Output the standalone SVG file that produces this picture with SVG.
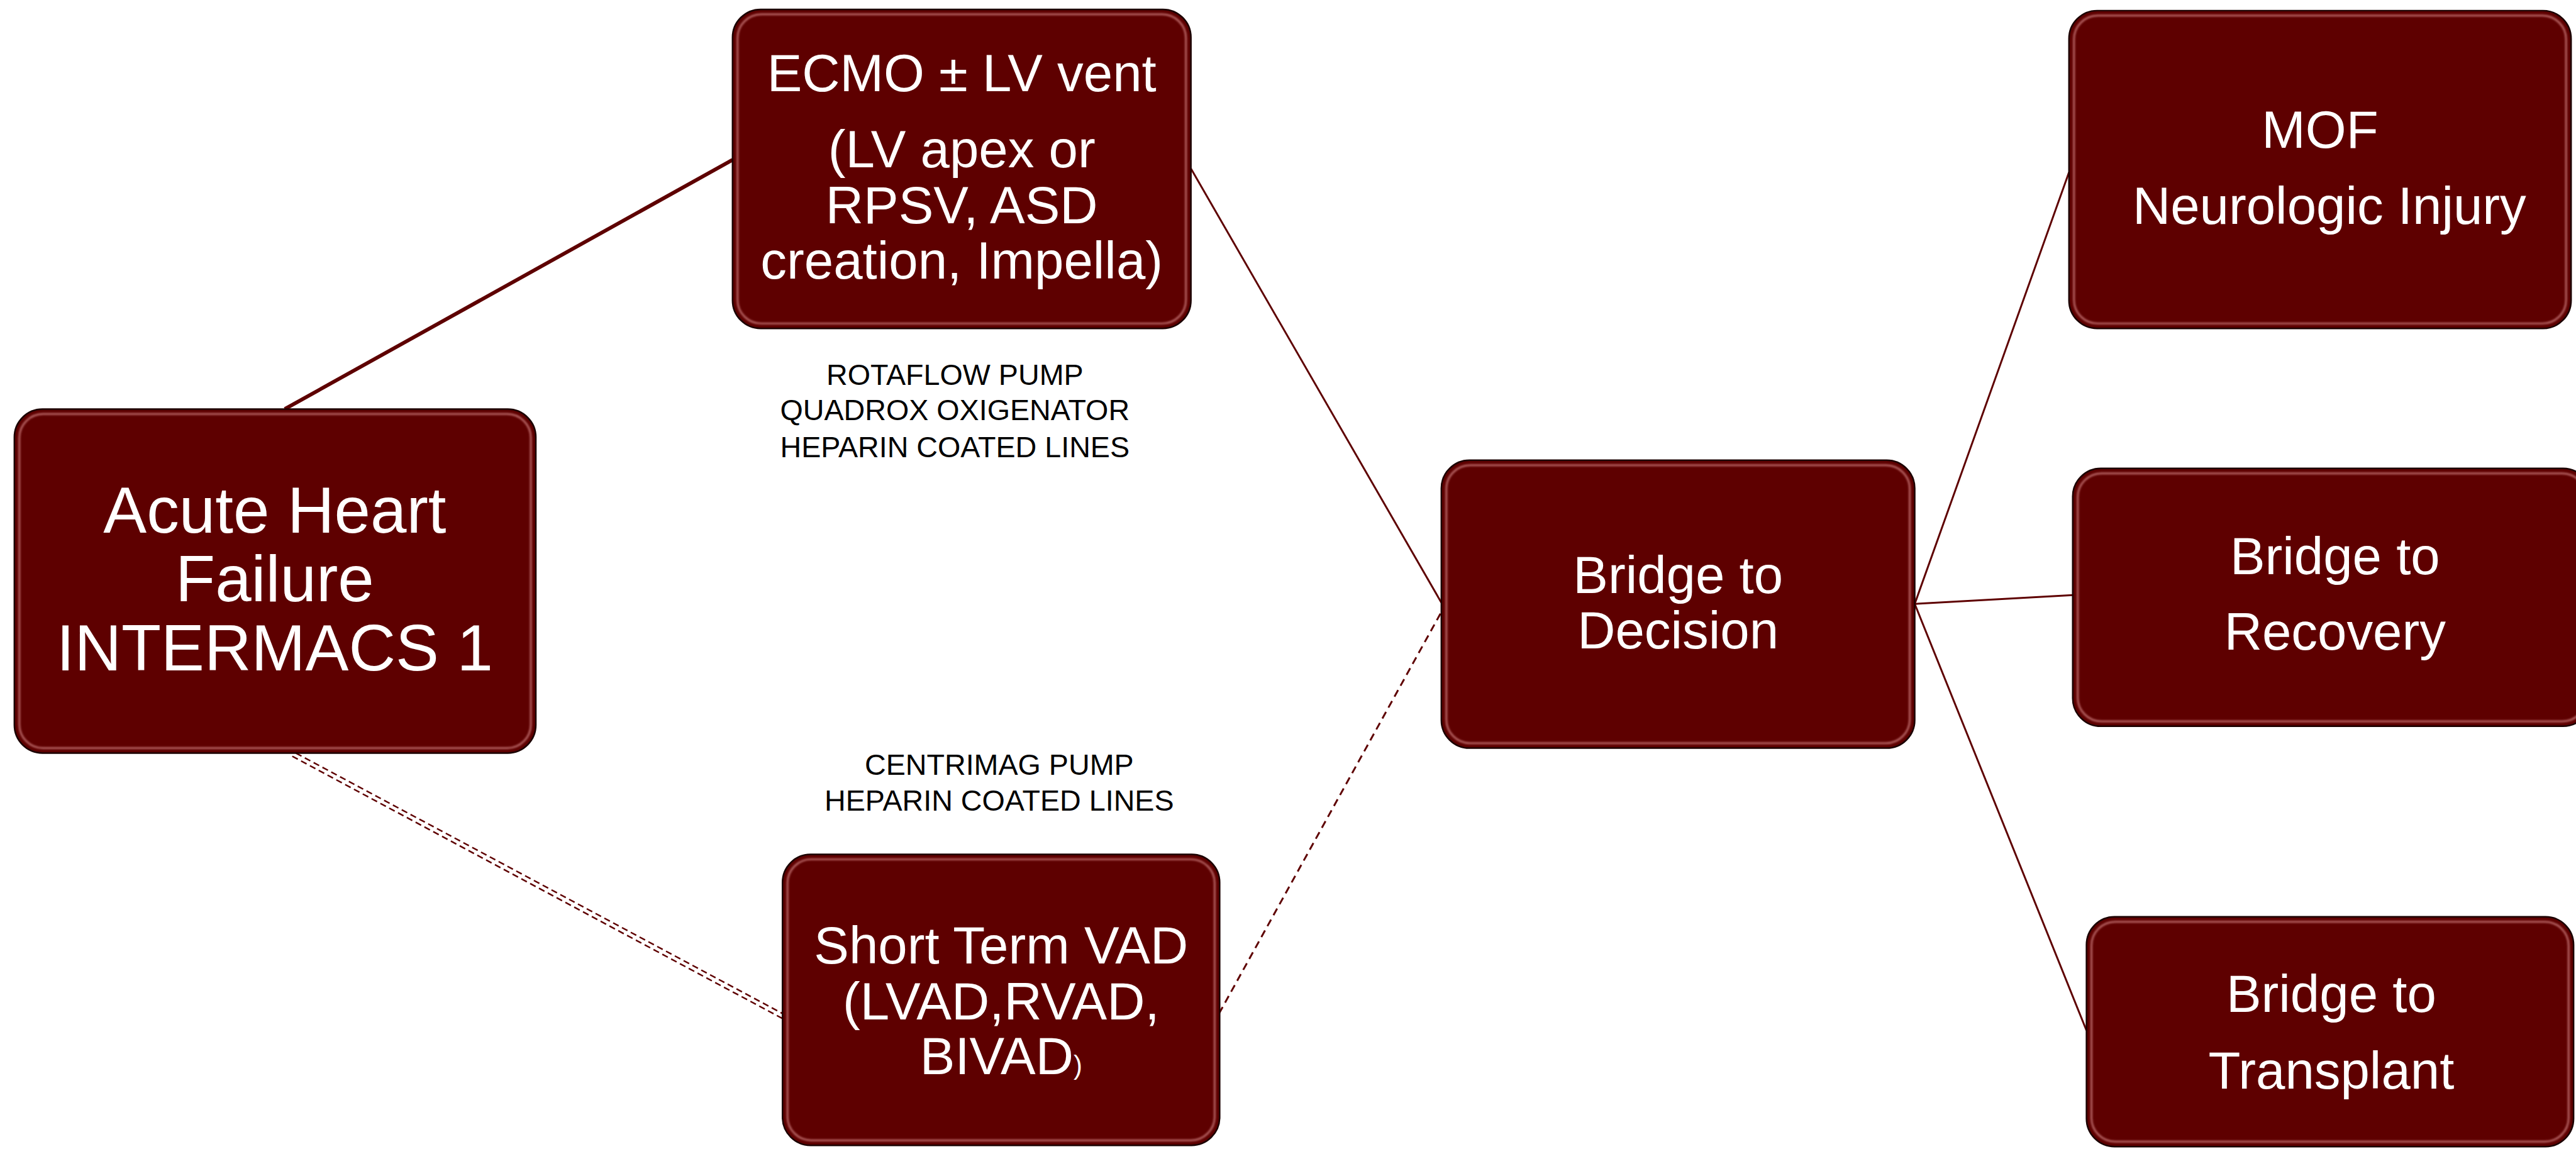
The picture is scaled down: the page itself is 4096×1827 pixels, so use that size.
<svg xmlns="http://www.w3.org/2000/svg" width="4096" height="1827" viewBox="0 0 4096 1827">
<defs>
<style>
.box{fill:#5e0000;stroke:#1a0000;stroke-width:2.5}
.hl{fill:none;stroke:#f2a8a8;stroke-width:3;opacity:0.6;filter:url(#blur)}
.t{fill:#ffffff;font-family:"Liberation Sans",Arial,sans-serif;font-size:84px;text-anchor:middle}
.big{font-size:104px}
.lbl{fill:#000000;font-family:"Liberation Sans",Arial,sans-serif;font-size:47px;text-anchor:middle}
.c{fill:none;stroke:#5e0000;stroke-width:3}
.thick{stroke-width:6}
.dash{stroke-dasharray:12 8}
.dash2{stroke-dasharray:10 6;stroke-width:2.5}
</style>
<filter id="blur" x="-5%" y="-5%" width="110%" height="110%"><feGaussianBlur stdDeviation="1.5"/></filter>
</defs>
<rect width="4096" height="1827" fill="#ffffff"/>
<g transform="scale(0.993)">
<g id="connectors">
<line class="c thick" x1="456" y1="655" x2="1173" y2="256"/>
<line class="c" x1="1907" y1="270" x2="2308" y2="965"/>
<line class="c dash2" x1="474" y1="1206" x2="1253" y2="1623"/>
<line class="c dash2" x1="468" y1="1211" x2="1253" y2="1631"/>
<line class="c dash" x1="1952" y1="1623" x2="2308" y2="980"/>
<line class="c" x1="3066" y1="967" x2="3313" y2="276"/>
<line class="c" x1="3066" y1="967" x2="3319" y2="953"/>
<line class="c" x1="3066" y1="967" x2="3341" y2="1650"/>
</g>
<g id="n-ahf">
<rect class="box" x="23" y="655" width="835" height="551" rx="45"/>
<rect class="hl" x="31" y="663" width="819" height="535" rx="38"/>
<text class="t big" x="440" y="853">Acute Heart</text>
<text class="t big" x="440" y="963">Failure</text>
<text class="t big" x="440" y="1074">INTERMACS 1</text>
</g>
<g id="n-ecmo">
<rect class="box" x="1173" y="15" width="734" height="511" rx="45"/>
<rect class="hl" x="1181" y="23" width="718" height="495" rx="38"/>
<text class="t" x="1540" y="146">ECMO ± LV vent</text>
<text class="t" x="1540" y="268">(LV apex or</text>
<text class="t" x="1540" y="357">RPSV, ASD</text>
<text class="t" x="1540" y="446">creation, Impella)</text>
</g>
<g id="n-stvad">
<rect class="box" x="1253" y="1368" width="700" height="466" rx="45"/>
<rect class="hl" x="1261" y="1376" width="684" height="450" rx="38"/>
<text class="t" x="1603" y="1543">Short Term VAD</text>
<text class="t" x="1603" y="1632">(LVAD,RVAD,</text>
<text class="t" x="1603" y="1720">BIVAD<tspan font-size="42">)</tspan></text>
</g>
<g id="n-btd">
<rect class="box" x="2308" y="737" width="758" height="461" rx="45"/>
<rect class="hl" x="2316" y="745" width="742" height="445" rx="38"/>
<text class="t" x="2687" y="950">Bridge to</text>
<text class="t" x="2687" y="1038">Decision</text>
</g>
<g id="n-mof">
<rect class="box" x="3313" y="17" width="804" height="509" rx="45"/>
<rect class="hl" x="3321" y="25" width="788" height="493" rx="38"/>
<text class="t" x="3715" y="237">MOF</text>
<text class="t" x="3730" y="359">Neurologic Injury</text>
</g>
<g id="n-btr">
<rect class="box" x="3319" y="750" width="830" height="413" rx="45"/>
<rect class="hl" x="3327" y="758" width="814" height="397" rx="38"/>
<text class="t" x="3739" y="919">Bridge to</text>
<text class="t" x="3739" y="1040">Recovery</text>
</g>
<g id="n-btt">
<rect class="box" x="3341" y="1468" width="780" height="368" rx="45"/>
<rect class="hl" x="3349" y="1476" width="764" height="352" rx="38"/>
<text class="t" x="3733" y="1620">Bridge to</text>
<text class="t" x="3733" y="1743">Transplant</text>
</g>
<g id="labels">
<text class="lbl" x="1529" y="616">ROTAFLOW PUMP</text>
<text class="lbl" x="1529" y="673">QUADROX OXIGENATOR</text>
<text class="lbl" x="1529" y="732">HEPARIN COATED LINES</text>
<text class="lbl" x="1600" y="1241">CENTRIMAG PUMP</text>
<text class="lbl" x="1600" y="1298">HEPARIN COATED LINES</text>
</g>
</g>
</svg>
